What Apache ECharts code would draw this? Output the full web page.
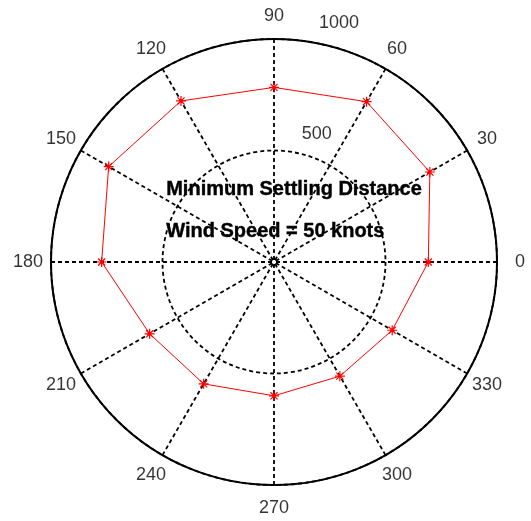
<!DOCTYPE html>
<html>
<head>
<meta charset="utf-8">
<script src="https://cdn.jsdelivr.net/npm/echarts@6/dist/echarts.min.js"></script>
<style>html,body{margin:0;padding:0;background:#fff;}#c{width:531px;height:521px;}</style>
</head>
<body>
<div id="c"></div>
<script>
// ---- data ----
const angles = [0, 30, 60, 90, 120, 150, 180, 210, 240, 270, 300, 330];
const distances = [692, 807, 830, 783, 834, 856, 773, 644, 631, 600, 591, 612];
const angleTickLabels = ['0', '30', '60', '90', '120', '150', '180', '210', '240', '270', '300', '330'];
const radiusTickValues = [500, 1000];
const radiusTickLabels = ['500', '1000'];
const titleLines = ['Minimum Settling Distance', 'Wind Speed = 50 knots'];

// ---- layout ----
const CX = 274, CY = 262, R = 223, RMAX = 1000;
const OUTER_R = 300;
const OUTER_MAX = OUTER_R / R * RMAX;
const ANGLE_LABEL_R = 1103;
const radiusLabelPos = [[607, 71.6], [1111, 74.8]]; // [r, angle] placement of radius tick labels
const FONT = "'Liberation Sans', Arial, Helvetica, sans-serif";

const lineData = angles.map((a, i) => [distances[i], a]);
lineData.push({ value: [distances[0], 360], symbol: 'none' });

const angleLabelData = angles.map((a, i) => ({ value: [ANGLE_LABEL_R, a], label: { formatter: angleTickLabels[i] } }));
const radiusLabelData = radiusTickValues.map((v, i) => ({ value: radiusLabelPos[i], label: { formatter: radiusTickLabels[i] } }));

const asterisk = 'path://M0,-10L0,10M-10,0L10,0M-7.07,-7.07L7.07,7.07M-7.07,7.07L7.07,-7.07';

const chart = echarts.init(document.getElementById('c'), null, { renderer: 'canvas' });
chart.setOption({
  backgroundColor: '#fff',
  animation: false,
  polar: [
    { center: [CX, CY], radius: R },
    { center: [CX, CY], radius: OUTER_R }
  ],
  angleAxis: [
    {
      polarIndex: 0, type: 'value', min: 0, max: 360, interval: 30, startAngle: 0, clockwise: false,
      axisLine: { show: true, lineStyle: { color: '#000', width: 2 } },
      axisTick: { show: false },
      axisLabel: { show: false },
      splitLine: { show: true, lineStyle: { color: '#000', width: 1.8, type: [4, 3] } }
    },
    {
      polarIndex: 1, type: 'value', min: 0, max: 360, startAngle: 0, clockwise: false,
      axisLine: { show: false }, axisTick: { show: false }, axisLabel: { show: false }, splitLine: { show: false }
    }
  ],
  radiusAxis: [
    {
      polarIndex: 0, type: 'value', min: 0, max: RMAX, interval: 500,
      axisLine: { show: false }, axisTick: { show: false }, axisLabel: { show: false },
      splitLine: { show: true, lineStyle: { color: '#000', width: 1.8, type: [4, 3] } }
    },
    {
      polarIndex: 1, type: 'value', min: 0, max: OUTER_MAX,
      axisLine: { show: false }, axisTick: { show: false }, axisLabel: { show: false }, splitLine: { show: false }
    }
  ],
  graphic: [
    { type: 'text', left: 166, top: 179, z: 10, style: { text: titleLines[0], font: 'bold 20px ' + FONT, fill: '#000', stroke: '#000', lineWidth: 0.4 } },
    { type: 'text', left: 166, top: 221, z: 10, style: { text: titleLines[1], font: 'bold 20px ' + FONT, fill: '#000', stroke: '#000', lineWidth: 0.4 } }
  ],
  series: [
    {
      type: 'line', coordinateSystem: 'polar', polarIndex: 0, data: lineData,
      lineStyle: { color: '#ff0000', width: 1 },
      symbol: asterisk, symbolSize: 10, showAllSymbol: true,
      itemStyle: { color: 'rgba(0,0,0,0)', borderColor: '#ff0000', borderWidth: 1.2 },
      z: 5
    },
    {
      type: 'scatter', coordinateSystem: 'polar', polarIndex: 1, data: angleLabelData,
      symbolSize: 0, silent: true,
      label: { show: true, position: 'inside', color: '#000', fontSize: 18, fontFamily: FONT }
    },
    {
      type: 'scatter', coordinateSystem: 'polar', polarIndex: 1, data: radiusLabelData,
      symbolSize: 0, silent: true,
      label: { show: true, position: 'inside', color: '#000', fontSize: 18, fontFamily: FONT }
    }
  ]
});
</script>
</body>
</html>
